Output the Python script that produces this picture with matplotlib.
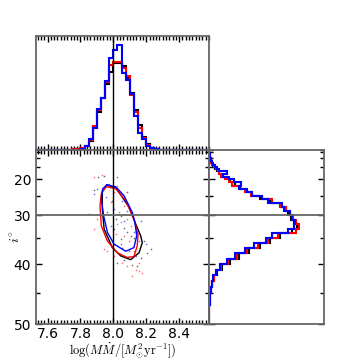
import numpy as np
import matplotlib
matplotlib.use("Agg")
import matplotlib.pyplot as plt
from matplotlib.ticker import MultipleLocator, FixedLocator, NullFormatter

plt.rcParams['mathtext.fontset'] = 'cm'
plt.rcParams['font.size'] = 8.5

# ---- data ----
# log(M Mdot) histogram, bins of 0.025 from 7.5 to 8.6
mm_edges = np.linspace(7.5, 8.6, 45)
mm_black = [0]*10 + [0.5, 1, 2, 4, 9, 22, 38, 52, 66, 78, 87, 87, 84, 72, 57, 40, 25, 13, 6, 2, 1, 0.5] + [0]*12
mm_red   = [0]*10 + [1, 1.5, 2, 4, 10, 24, 40, 52, 68, 85, 88, 88, 82, 74, 55, 38, 22, 12, 5, 2, 1, 0] + [0]*12
mm_blue  = [0]*10 + [0, 0.5, 1, 4, 11, 22, 41, 52, 69, 92, 100, 105, 77, 70, 56, 34, 17, 11, 4, 2, 1, 0] + [0]*12

# inclination histogram, 1 degree bins from 0 to 50
inc_edges = np.arange(0, 51, 1)
inc_black = [0, 0, 0, 0, 0, 0, 0.5, 0.5, 0.5, 1,
             1, 1.5, 2, 3, 4, 6, 8, 10, 13, 17,
             21, 26, 31, 37, 43, 52, 62, 72, 78, 80,
             83, 86, 89, 84, 72, 62, 52, 40, 30, 21,
             13, 8, 5, 3, 2, 1.5, 1, 0.5, 0.5, 0.3]
inc_red = [0, 0, 0, 0, 0, 0, 0.5, 0.5, 1, 1,
           1.5, 2, 2.5, 3, 5, 7, 9, 10, 12, 16,
           20, 23, 30, 36, 42, 54, 64, 72, 78, 82,
           85, 88, 91, 88, 70, 60, 50, 38, 28, 19,
           12, 7, 5, 3, 2, 1.5, 1, 0.5, 0.5, 0.3]
inc_blue = [0, 0, 0, 0, 0, 0, 0.5, 1, 1, 1.5,
            2, 2, 3, 4, 6, 8, 10, 18, 14, 20,
            25, 32, 30, 38, 44, 54, 60, 74, 76, 82,
            84, 87, 86, 80, 64, 58, 46, 36, 26, 18,
            11, 7, 4, 3, 2, 1, 1, 0.5, 0.3, 0.2]

# contour levels (log M Mdot, inclination in deg)
cont_black_x = [7.964, 8.02, 8.095, 8.136, 8.166, 8.176, 8.156, 8.105, 8.045, 7.994, 7.944, 7.933, 7.933]
cont_black_i = [21.8, 23.0, 28.0, 32.0, 34.5, 35.9, 37.9, 39.2, 38.5, 36.9, 33.1, 28.5, 23.8]
cont_red_x = [7.954, 8.015, 8.075, 8.125, 8.15, 8.145, 8.125, 8.085, 8.024, 7.964, 7.927, 7.919, 7.927]
cont_red_i = [22.3, 23.0, 26.3, 30.9, 34.2, 36.6, 38.6, 38.8, 37.9, 35.6, 32.4, 27.6, 24.5]
cont_blue_x = [7.96, 8.015, 8.065, 8.115, 8.131, 8.142, 8.125, 8.075, 8.004, 7.964, 7.941, 7.927, 7.935]
cont_blue_i = [21.8, 22.4, 25.0, 29.3, 31.6, 34.5, 36.9, 37.6, 36.2, 33.8, 30.1, 25.9, 23.0]

# samples
pts_black_x = [7.907, 7.944, 8.085, 7.853, 7.964, 8.045, 8.065, 8.085, 8.105, 8.126, 8.186, 8.227,
               8.055, 8.065, 8.116, 8.146, 8.025, 7.883, 7.994, 8.015, 8.045, 8.004, 8.166, 8.206]
pts_black_i = [19.2, 18.8, 24.0, 29.7, 29.3, 30.1, 32.8, 33.8, 34.5, 34.9, 35.6, 37.2,
               36.9, 39.2, 40.1, 40.4, 39.8, 23.5, 26.3, 30.9, 35.2, 33.1, 38.8, 37.9]
pts_red_x = [7.934, 8.025, 8.004, 8.065, 8.045, 8.085, 8.025, 8.065, 8.095, 8.126, 8.156, 8.136,
             8.176, 8.116, 7.883, 7.944, 7.964, 8.004, 8.055, 8.085, 7.984, 8.035, 7.903, 8.015,
             8.105, 7.883, 8.156]
pts_red_i = [18.5, 22.0, 24.0, 27.6, 31.6, 30.9, 32.0, 34.5, 35.6, 37.6, 39.8, 41.0,
             41.6, 42.2, 33.1, 37.2, 37.6, 38.5, 39.8, 40.4, 26.8, 29.3, 30.9, 34.2,
             32.4, 19.0, 41.3]
pts_blue_x = [7.883, 7.903, 7.954, 8.004, 8.025, 8.055, 8.085, 8.126, 8.156, 8.196, 8.095, 8.045,
              7.984, 8.166, 8.136, 7.974, 8.065]
pts_blue_i = [24.5, 23.0, 25.4, 28.5, 19.2, 26.3, 28.9, 33.8, 35.6, 36.2, 37.6, 36.2,
              32.4, 31.2, 38.5, 21.5, 31.2]

true_mm = 8.0
true_inc = 30

colors = ['k', 'r', 'b']


def fwd(i):
    return -np.cos(np.radians(i))


def inv(y):
    return np.degrees(np.arccos(np.clip(-y, -1, 1)))


def style(ax):
    for s in ax.spines.values():
        s.set_color('0.4')
        s.set_linewidth(1.3)
    ax.tick_params(which='both', direction='in', top=True, right=True, width=1.0)
    ax.tick_params(which='major', length=4)
    ax.tick_params(which='minor', length=3)


fig = plt.figure(figsize=(3.6, 3.6), dpi=100)
ax = fig.add_axes([0.1, 0.1, 0.48, 0.483])
axt = fig.add_axes([0.1, 0.583, 0.48, 0.317], sharex=ax)
axr = fig.add_axes([0.58, 0.1, 0.32, 0.483], sharey=ax)

ax.set_yscale('function', functions=(fwd, inv))

# main panel
for px, pi, c in [(pts_black_x, pts_black_i, 'k'), (pts_red_x, pts_red_i, 'r'), (pts_blue_x, pts_blue_i, 'b')]:
    ax.scatter(px, pi, s=1.5, c=c, alpha=0.55, linewidths=0)
for cx, ci, c in [(cont_black_x, cont_black_i, 'k'), (cont_red_x, cont_red_i, 'r'), (cont_blue_x, cont_blue_i, 'b')]:
    ax.plot(cx + cx[:1], ci + ci[:1], color=c, lw=1.0)
ax.axvline(true_mm, color='k', lw=1.0)
ax.axhline(true_inc, color='0.4', lw=1.3)

ax.set_xlim(7.53, 8.58)
ax.set_ylim(50, 0)
ax.xaxis.set_major_locator(FixedLocator([7.6, 7.8, 8.0, 8.2, 8.4]))
ax.xaxis.set_minor_locator(MultipleLocator(0.02))
ax.xaxis.set_minor_formatter(NullFormatter())
ax.yaxis.set_major_locator(FixedLocator([20, 30, 40, 50]))
ax.yaxis.set_minor_locator(FixedLocator([0, 5, 10, 15, 25, 35, 45]))
ax.yaxis.set_minor_formatter(NullFormatter())
ax.set_yticklabels(['20', '30', '40', '50'], fontsize=10)
ax.set_xticklabels(['7.6', '7.8', '8.0', '8.2', '8.4'], fontsize=10)
ax.set_xlabel(r'$\log(M\dot{M}/[M_{\odot}^{2}{\rm yr}^{-1}])$', fontsize=9, labelpad=-0.5)
ax.set_ylabel(r'$i^{\circ}$', fontsize=10, labelpad=-7)
style(ax)
ax.tick_params(axis='x', which='major', pad=2)

# top histogram
for h, c in zip([mm_black, mm_red, mm_blue], colors):
    axt.hist(mm_edges[:-1], bins=mm_edges, weights=h, histtype='step', color=c, lw=1.5)
axt.axvline(true_mm, color='k', lw=1.0)
axt.set_ylim(0, 114)
axt.set_yticks([])
axt.tick_params(labelbottom=False)
style(axt)

# right histogram
for h, c in zip([inc_black, inc_red, inc_blue], colors):
    axr.hist(inc_edges[:-1] + 0.5, bins=inc_edges, weights=h, histtype='step',
             orientation='horizontal', color=c, lw=1.5)
axr.axhline(true_inc, color='0.4', lw=1.3)
axr.set_xlim(0, 116)
axr.set_xticks([])
axr.tick_params(labelleft=False)
style(axr)

fig.savefig('out.png', dpi=100)
